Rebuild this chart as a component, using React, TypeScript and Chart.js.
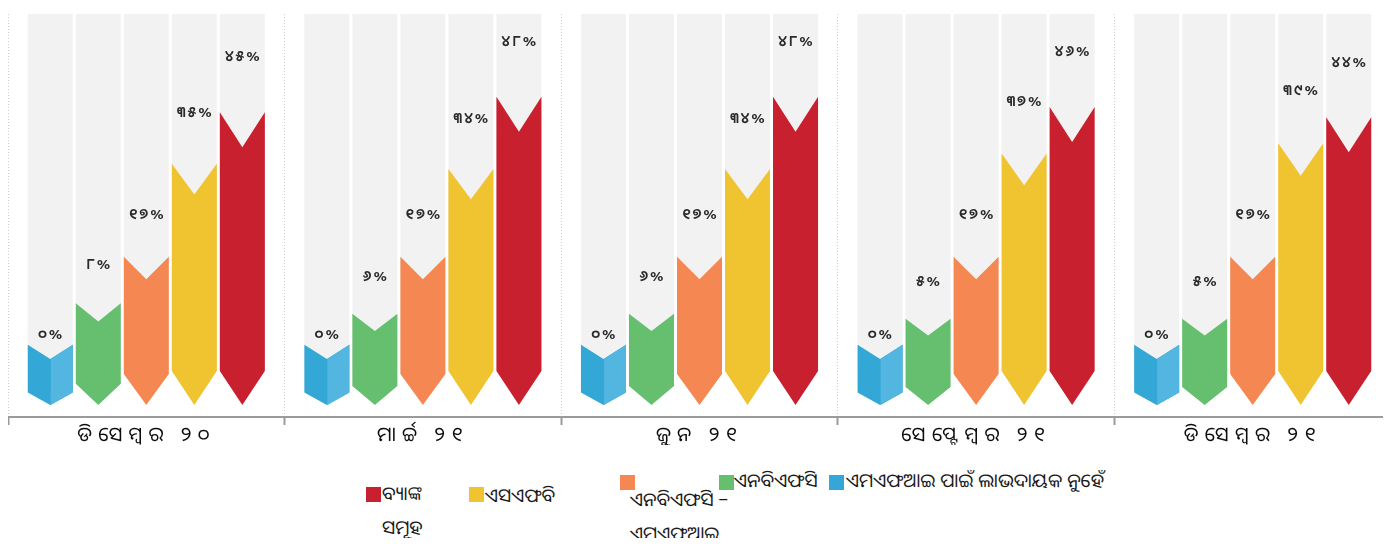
import React, { useEffect, useRef } from "react";
import { Chart, registerables } from "chart.js";

Chart.register(...registerables);

// ---- data ----
const categories = ["ଡିସେମ୍ବର ୨୦", "ମାର୍ଚ୍ଚ ୨୧", "ଜୁନ ୨୧", "ସେପ୍ଟେମ୍ବର ୨୧", "ଡିସେମ୍ବର ୨୧"];
const notForProfitMfi = [0, 0, 0, 0, 0];
const nbfc = [8, 6, 6, 5, 5];
const nbfcMfi = [17, 17, 17, 17, 17];
const sfb = [35, 34, 34, 37, 39];
const banks = [45, 48, 48, 46, 44];
const seriesNames = [
  "ଏମଏଫଆଇ ପାଇଁ ଲାଭଦାୟକ ନୁହେଁ",
  "ଏନବିଏଫସି",
  "ଏନବିଏଫସି – ଏମଏଫଆଇ",
  "ଏସଏଫବି",
  "ବ୍ୟାଙ୍କ ସମୂହ",
];
const seriesValues = [notForProfitMfi, nbfc, nbfcMfi, sfb, banks];

// ---- styles ----
const seriesColors = ["#33a8d6", "#66bf6e", "#f58852", "#f0c330", "#c8202f"];
const seriesShade = ["#52b6e0", null, null, null, null];
const TRACK_COLOR = "#f2f2f2";
const Y_MIN = -14;
const Y_MAX = 64;
const TRACK_BASE = -5;
const BAR_BASE = -11.7;
const FONT = '"Noto Sans Oriya", "Noto Sans", "DejaVu Sans", sans-serif';

const odiaDigits = "୦୧୨୩୪୫୬୭୮୯";
const toOdia = (n: number) =>
  String(n)
    .split("")
    .map((c) => (c >= "0" && c <= "9" ? odiaDigits[Number(c)] : c))
    .join("");

const spacingPlugin = {
  id: "tickSpacing",
  beforeDraw(chart: any) {
    (chart.ctx as any).letterSpacing = "6px";
  },
  beforeDatasetsDraw(chart: any) {
    (chart.ctx as any).letterSpacing = "0px";
  },
};

const chevronPlugin = {
  id: "chevrons",
  afterDatasetsDraw(chart: any) {
    const ctx = chart.ctx as CanvasRenderingContext2D;
    const labels: { x: number; y: number; t: string }[] = [];
    chart.data.datasets.forEach((ds: any, di: number) => {
      if (ds.chevronIndex === undefined) return;
      const si = ds.chevronIndex;
      const meta = chart.getDatasetMeta(di);
      meta.data.forEach((el: any, i: number) => {
        const { x, y, base, width } = el.getProps(["x", "y", "base", "width"], true);
        const h = base - y;
        const half = width / 2;
        const p = Math.min(34, 0.21 * h);
        const n = Math.min(35, 9 + 0.09 * h);
        ctx.save();
        ctx.beginPath();
        ctx.moveTo(x - half, y);
        ctx.lineTo(x, y + n);
        ctx.lineTo(x + half, y);
        ctx.lineTo(x + half, base - p);
        ctx.lineTo(x, base);
        ctx.lineTo(x - half, base - p);
        ctx.closePath();
        ctx.fillStyle = seriesColors[si];
        ctx.fill();
        const shade = seriesShade[si];
        if (shade) {
          ctx.beginPath();
          ctx.moveTo(x + 0.5, y + n);
          ctx.lineTo(x + half, y);
          ctx.lineTo(x + half, base - p);
          ctx.lineTo(x + 0.5, base);
          ctx.closePath();
          ctx.fillStyle = shade;
          ctx.fill();
        }
        ctx.restore();
        const v = ds.data[i];
        const off = v === 0 ? 10 : 20 + n;
        labels.push({ x, y: y - off, t: toOdia(v) + "%" });
      });
    });
    ctx.save();
    (ctx as any).letterSpacing = "2px";
    ctx.font = `600 15px ${FONT}`;
    ctx.fillStyle = "#2a2a2a";
    ctx.textAlign = "center";
    ctx.textBaseline = "middle";
    labels.forEach((l) => ctx.fillText(l.t, l.x + 1, l.y));
    ctx.restore();
  },
};

export default function App() {
  const ref = useRef<HTMLCanvasElement | null>(null);

  useEffect(() => {
    document.documentElement.style.overflow = "hidden";
    if (!ref.current) return;
    const trackSets = seriesValues.map((vals, si) => ({
      label: "track" + si,
      data: vals.map(() => Y_MAX),
      base: TRACK_BASE,
      backgroundColor: TRACK_COLOR,
      stack: "s" + si,
      order: 2,
      categoryPercentage: 0.868,
      barPercentage: 0.9375,
    }));
    const valueSets = seriesValues.map((vals, si) => ({
      label: seriesNames[si],
      data: vals,
      base: BAR_BASE,
      backgroundColor: "rgba(0,0,0,0)",
      stack: "s" + si,
      order: 1,
      chevronIndex: si,
      categoryPercentage: 0.868,
      barPercentage: 0.9375,
    }));
    const chart = new Chart(ref.current, {
      type: "bar",
      data: { labels: categories, datasets: [...valueSets, ...trackSets] as any },
      plugins: [spacingPlugin, chevronPlugin],
      options: {
        animation: false,
        responsive: true,
        maintainAspectRatio: false,
        devicePixelRatio: 1,
        layout: { padding: { top: 6, bottom: 13, left: 0, right: 0 } },
        plugins: { legend: { display: false }, tooltip: { enabled: false } },
        scales: {
          x: {
            stacked: true,
            offset: true,
            grid: {
              display: true,
              offset: true,
              color: "#cfcfcf",
              lineWidth: 1,
              tickLength: 8,
              tickColor: "#9a9a9a",
              tickWidth: 2,
              tickBorderDash: [],
            },
            border: { display: true, color: "#9a9a9a", width: 2, dash: [1, 2] },
            ticks: {
              color: "#0d0d0d",
              padding: -2,
              font: { family: FONT, size: 20, weight: "normal" },
              maxRotation: 0,
              autoSkip: false,
            },
          },
          y: {
            display: false,
            stacked: false,
            min: Y_MIN,
            max: Y_MAX,
          },
        },
      } as any,
    });
    return () => chart.destroy();
  }, []);

  const legendItems = [
    { si: 4, box: [358, 29], text: [374, 18], width: 62 },
    { si: 3, box: [461, 29], text: [477, 20], width: 140 },
    { si: 2, box: [612, 17], text: [622, 24], width: 118 },
    { si: 1, box: [711, 17], text: [726, 5], width: 140 },
    { si: 0, box: [821, 17], text: [838, 5], width: 400 },
  ];

  return (
    <div style={{ width: 1383, position: "relative" }}>
      <div style={{ position: "relative", width: 1383, height: 450 }}>
        <canvas ref={ref} />
      </div>
      <div style={{ position: "relative", width: 1383, height: 80, fontFamily: FONT }}>
        {legendItems.map((it) => (
          <React.Fragment key={it.si}>
            <div
              style={{
                position: "absolute",
                left: it.box[0],
                top: it.box[1],
                width: 15,
                height: 15,
                background: seriesColors[it.si],
              }}
            />
            <div
              style={{
                position: "absolute",
                left: it.text[0],
                top: it.text[1],
                width: it.width,
                fontSize: 19,
                lineHeight: "34px",
                color: "#1a1a1a",
                whiteSpace: "normal",
              }}
            >
              {seriesNames[it.si]}
            </div>
          </React.Fragment>
        ))}
      </div>
    </div>
  );
}
